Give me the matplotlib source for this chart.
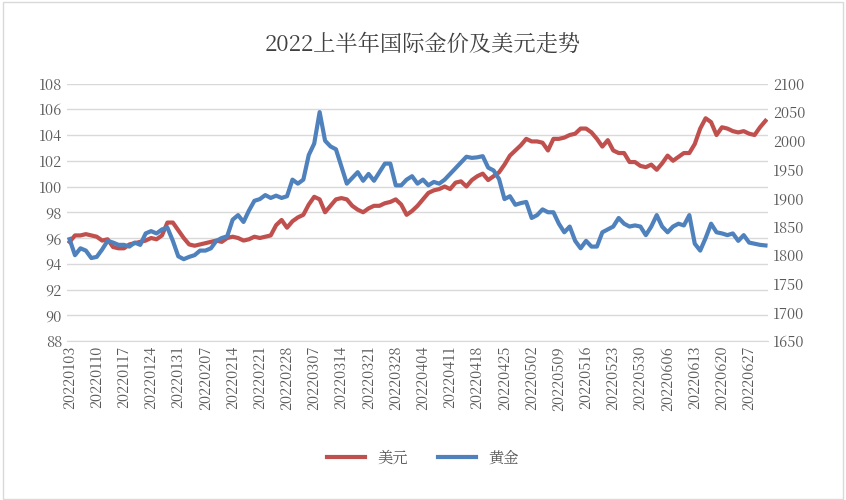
import numpy as np
import pandas as pd
import matplotlib
matplotlib.use("Agg")
import matplotlib.pyplot as plt
from matplotlib import font_manager

# pick whichever CJK font is actually registered
cjk = [f.name for f in font_manager.fontManager.ttflist if "CJK" in f.name]
for path in font_manager.findSystemFonts():
    if "CJK" in path and not cjk:
        font_manager.fontManager.addfont(path)
        cjk = [font_manager.FontProperties(fname=path).get_name()]
pref = [n for n in cjk if "SC" in n] or cjk
plt.rcParams["font.family"] = (pref[:1] if pref else []) + ["DejaVu Sans"]

DATES = pd.bdate_range("2022-01-03", "2022-06-30").strftime("%Y%m%d").tolist()

USD = [95.7, 96.2, 96.2, 96.3, 96.2,
       96.1, 95.8, 95.9, 95.3, 95.2,
       95.2, 95.5, 95.6, 95.7, 95.8,
       96.0, 95.9, 96.2, 97.2, 97.2,
       96.6, 96.0, 95.5, 95.4, 95.5,
       95.6, 95.7, 95.8, 95.7, 96.0,
       96.1, 96.0, 95.8, 95.9, 96.1,
       96.0, 96.1, 96.2, 97.0, 97.4,
       96.8, 97.3, 97.6, 97.8, 98.6,
       99.2, 99.0, 98.0, 98.5, 99.0,
       99.1, 99.0, 98.5, 98.2, 98.0,
       98.3, 98.5, 98.5, 98.7, 98.8,
       99.0, 98.6, 97.8, 98.1, 98.5,
       99.0, 99.5, 99.7, 99.8, 100.0,
       99.8, 100.3, 100.4, 100.0, 100.5,
       100.8, 101.0, 100.5, 100.8, 101.1,
       101.7, 102.4, 102.8, 103.2, 103.7,
       103.5, 103.5, 103.4, 102.8, 103.7,
       103.7, 103.8, 104.0, 104.1, 104.5,
       104.5, 104.2, 103.7, 103.1, 103.6,
       102.8, 102.6, 102.6, 101.9, 101.9,
       101.6, 101.5, 101.7, 101.3, 101.8,
       102.4, 102.0, 102.3, 102.6, 102.6,
       103.3, 104.5, 105.3, 105.0, 104.0,
       104.6, 104.5, 104.3, 104.2, 104.3,
       104.1, 104.0, 104.6, 105.1]

GOLD = [1828, 1800, 1812, 1808, 1795,
        1797, 1810, 1825, 1822, 1818,
        1818, 1815, 1822, 1818, 1838,
        1842, 1838, 1845, 1848, 1825,
        1798, 1793, 1797, 1800, 1808,
        1808, 1812, 1825, 1830, 1833,
        1862, 1870, 1858, 1878, 1895,
        1898, 1905, 1900, 1904, 1900,
        1903, 1932, 1925, 1932, 1975,
        1995, 2050, 2000, 1990, 1985,
        1955, 1925, 1935, 1945, 1930,
        1942, 1930, 1945, 1960, 1960,
        1922, 1922, 1932, 1938, 1925,
        1932, 1922, 1928, 1925, 1932,
        1942, 1952, 1962, 1972, 1970,
        1971, 1973, 1953, 1948, 1933,
        1898, 1903, 1888, 1891, 1893,
        1865, 1870, 1880, 1875, 1875,
        1855, 1840, 1850, 1825, 1812,
        1825, 1815, 1815, 1840, 1845,
        1850, 1865, 1855, 1850, 1852,
        1850, 1835, 1850, 1870, 1850,
        1840, 1850, 1855, 1852, 1870,
        1820, 1808, 1830, 1855, 1840,
        1838, 1835, 1838, 1825, 1835,
        1822, 1820, 1818, 1817]

fig = plt.figure(figsize=(8.46, 5.0), dpi=100)
fig.patches.append(plt.Rectangle((0.003, 0.003), 0.994, 0.994, transform=fig.transFigure,
                                 fill=False, edgecolor="#d9d9d9", lw=1))
ax = fig.add_axes([0.079, 0.318, 0.829, 0.515])
ax2 = ax.twinx()
x = np.arange(len(DATES))

ax.plot(x, USD, color="#c0504d", lw=3, label="美元")
ax2.plot(x, GOLD, color="#4f81bd", lw=3, label="黄金")

ax.set_ylim(88, 108)
ax.set_yticks(np.arange(88, 109, 2))
ax2.set_ylim(1650, 2100)
ax2.set_yticks(np.arange(1650, 2101, 50))
ax.set_xlim(-0.5, len(DATES) - 0.5)
ax.set_xticks(x[::5])
ax.set_xticklabels(DATES[::5], rotation=90)
ax.grid(axis="y", color="#d9d9d9", lw=1)
ax.set_axisbelow(True)
for a in (ax, ax2):
    for s in a.spines.values():
        s.set_visible(False)
    a.tick_params(length=0, labelsize=10.5, colors="#595959")
ax.spines["bottom"].set_visible(True)
ax.spines["bottom"].set_color("#d9d9d9")

fig.suptitle("2022上半年国际金价及美元走势", y=0.935, fontsize=16, color="#404040")
h1, l1 = ax.get_legend_handles_labels()
h2, l2 = ax2.get_legend_handles_labels()
fig.legend(h1 + h2, l1 + l2, loc="lower center", bbox_to_anchor=(0.5, 0.04), ncol=2,
           frameon=False, fontsize=11, labelcolor="#595959", handlelength=2.5)
fig.savefig("out.png")
